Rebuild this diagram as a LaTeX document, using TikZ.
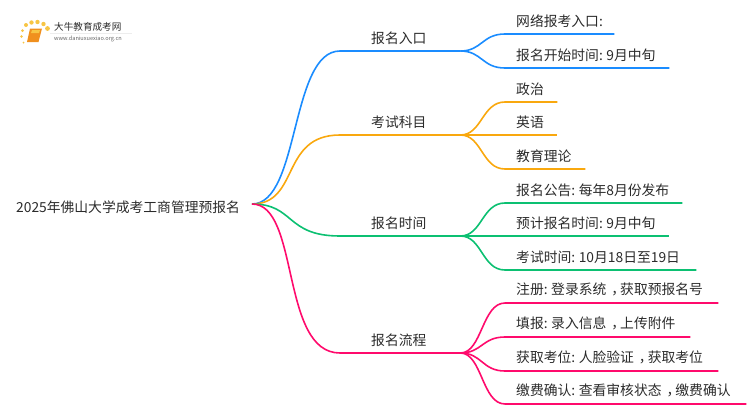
\documentclass[tikz,border=0pt]{standalone}
\usepackage{fontspec}
\setmainfont{Noto Sans CJK SC}
\usepackage{tikz}
\usetikzlibrary{positioning}
\usetikzlibrary{calc}
\definecolor{mapblue}{HTML}{1A8CFF}
\definecolor{maporange}{HTML}{F9A80E}
\definecolor{mapgreen}{HTML}{0CC072}
\definecolor{mappink}{HTML}{FF0A6C}
\definecolor{logodot}{HTML}{F7C544}
\definecolor{logobook}{HTML}{F0901E}
\definecolor{maptext}{HTML}{2B2B2B}
\newcommand{\midcomma}{\hspace*{.36em}，\hspace*{-.36em}}
\newcommand{\colonsep}{:\kern-1pt\ }

\begin{document}
\begin{tikzpicture}[x=1pt, y=-1pt,
    every node/.style={font=\fontsize{13.8}{16}\selectfont, text=maptext},
    root/.style={inner sep=0pt, anchor=west},
    branch/.style={inner sep=0pt, anchor=south west, minimum height=26pt,
        text width=120pt, align=left, execute at begin node=\hspace*{31pt}},
    leaf/.style={inner sep=0pt, anchor=south west, minimum height=26pt,
        text width=#1, align=left, execute at begin node=\hspace*{11pt}},
    link/.style={line width=1.6pt},
    logodotted/.style={fill=logodot, draw=none},
    ]
    \useasboundingbox (0,0) rectangle (750,410);

    % logo
    \fill[logodotted] (26,25) circle (2) (31.5,22.5) circle (2.2) (37.5,22) circle (2.2)
        (43.5,24) circle (2.2) (47.5,28.5) circle (2.4) (22.5,30.5) circle (1.5)
        (21.5,36.5) circle (1.3) (23.5,42.5) circle (1);
    \fill[logobook] (30,28.5) -- (42,28.5) -- (38.5,42) -- (27,42) -- cycle;
    \fill[logodot] (32,30) -- (40,30) -- (39,33) -- (31,33) -- cycle;
    \draw[black!7, line width=0.6pt] (50,33.5) -- (132,33.5);
    \node[anchor=west, inner sep=0pt, font=\fontsize{9.6}{11}\selectfont] (logoname) at (54,27) {大牛教育成考网};
    \node[anchor=west, inner sep=0pt, font=\fontsize{5.6}{7}\selectfont, text=black!60] (logourl) at (54,38.5) {www.daniuxuexiao.org.cn};

    % root and branches
    \node[root] (exam) at (16,207) {2025年佛山大学成考工商管理预报名};
    \coordinate (examout) at (252,204);

    \node[branch] (entry) at (340,51) {报名入口};
    \node[branch] (subject) at (340,135) {考试科目};
    \node[branch] (date) at (340,236) {报名时间};
    \node[branch] (process) at (340,353) {报名流程};

    \draw[link, mapblue] (examout) .. controls (300,204) and (290,51) .. (entry.south west) -- (entry.south east);
    \draw[link, maporange] (examout) .. controls (300,204) and (280,135) .. (subject.south west) -- (subject.south east);
    \draw[link, mapgreen] (examout) .. controls (295,204) and (285,236) .. (date.south west) -- (date.south east);
    \draw[link, mappink] (examout) .. controls (300,204) and (280,353) .. (process.south west) -- (process.south east);

    % leaves
    \node[leaf=109pt] (web) at (505,34) {网络报考入口:};
    \node[leaf=164pt] (start) at (505,68) {报名开始时间\colonsep 9月中旬};

    \node[leaf=52pt] (politics) at (505,102) {政治};
    \node[leaf=52pt] (english) at (505,135) {英语};
    \node[leaf=80pt] (theory) at (505,169) {教育理论};

    \node[leaf=177pt] (notice) at (505,203) {报名公告\colonsep 每年8月份发布};
    \node[leaf=164pt] (expect) at (505,236) {预计报名时间\colonsep 9月中旬};
    \node[leaf=191pt] (testday) at (505,270) {考试时间\colonsep 10月18日至19日};

    \node[leaf=213pt] (signup) at (505,303) {注册\colonsep 登录系统\midcomma 获取预报名号};
    \node[leaf=185pt] (fill) at (505,337) {填报\colonsep 录入信息\midcomma 上传附件};
    \node[leaf=213pt] (seat) at (505,371) {获取考位\colonsep 人脸验证\midcomma 获取考位};
    \node[leaf=241pt] (pay) at (505,404) {缴费确认\colonsep 查看审核状态\midcomma 缴费确认};

    \draw[link, mapblue] (entry.south east) .. controls (482,51) and (482,34) .. (web.south west) -- (web.south east);
    \draw[link, mapblue] (entry.south east) .. controls (482,51) and (482,68) .. (start.south west) -- (start.south east);

    \draw[link, maporange] (subject.south east) .. controls (482,135) and (482,102) .. (politics.south west) -- (politics.south east);
    \draw[link, maporange] (subject.south east) -- (english.south west) -- (english.south east);
    \draw[link, maporange] (subject.south east) .. controls (482,135) and (482,169) .. (theory.south west) -- (theory.south east);

    \draw[link, mapgreen] (date.south east) .. controls (482,236) and (482,203) .. (notice.south west) -- (notice.south east);
    \draw[link, mapgreen] (date.south east) -- (expect.south west) -- (expect.south east);
    \draw[link, mapgreen] (date.south east) .. controls (482,236) and (482,270) .. (testday.south west) -- (testday.south east);

    \draw[link, mappink] (process.south east) .. controls (482,353) and (482,303) .. (signup.south west) -- (signup.south east);
    \draw[link, mappink] (process.south east) .. controls (482,353) and (482,337) .. (fill.south west) -- (fill.south east);
    \draw[link, mappink] (process.south east) .. controls (482,353) and (482,371) .. (seat.south west) -- (seat.south east);
    \draw[link, mappink] (process.south east) .. controls (482,353) and (482,404) .. (pay.south west) -- (pay.south east);
\end{tikzpicture}
\end{document}
